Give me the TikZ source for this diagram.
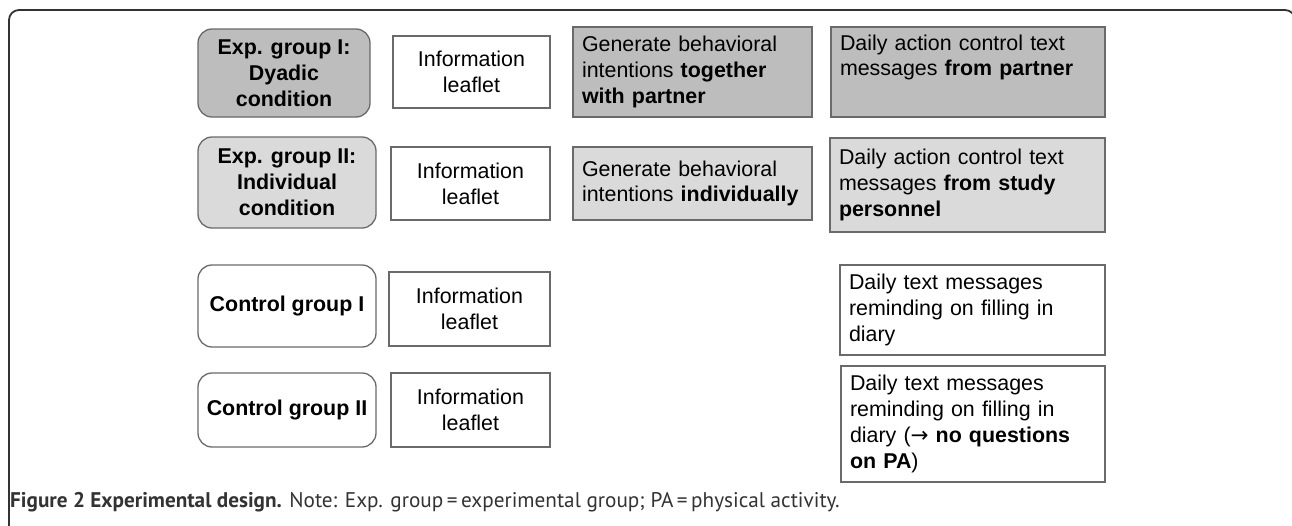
\documentclass[tikz,border=0pt]{standalone}
\usepackage{fontspec}
\setmainfont{Liberation Sans}
\newfontfamily\capfont{PT Sans}
\newfontfamily\arrowfont{DejaVu Sans}
\definecolor{gdark}{HTML}{BDBDBD}
\definecolor{glight}{HTML}{DADADA}
\definecolor{edgegray}{HTML}{6A6A6A}
\definecolor{framegray}{HTML}{333333}
\definecolor{captext}{HTML}{333333}
\begin{document}
\begin{tikzpicture}[x=1pt,y=-1pt,
  every node/.style={font=\fontsize{21.4}{25.8}\selectfont},
  grp/.style={draw=edgegray,line width=1.3pt,rounded corners=14pt,inner sep=0pt,align=center,font=\fontsize{21.4}{25.8}\selectfont\bfseries},
  leaf/.style={draw=edgegray,line width=1.3pt,fill=white,inner sep=0pt,align=center},
  act/.style={draw=edgegray,line width=1.3pt,inner xsep=9pt,inner ysep=0pt,align=left}]
\useasboundingbox (0,0) rectangle (1292,525);
\fill[white] (0,0) rectangle (1292,525);
% frame
\draw[framegray,line width=1.8pt,rounded corners=10pt] (9,530) -- (9,10) -- (1295,10) -- (1295,530);
% column 1
\node[grp,fill=gdark,minimum width=172pt,minimum height=88pt] (a1) at (284,73) {Exp. group I:\\Dyadic\\condition};
\node[grp,fill=glight,minimum width=178pt,minimum height=91pt] (a2) at (287,182.5) {Exp. group II:\\Individual\\condition};
\node[grp,fill=white,minimum width=178pt,minimum height=82pt] (a3) at (287,306) {Control group I};
\node[grp,fill=white,minimum width=178pt,minimum height=74pt] (a4) at (287,410) {Control group II};
% column 2
\node[leaf,minimum width=157pt,minimum height=72pt] (b1) at (471.5,72) {Information\\leaflet};
\node[leaf,minimum width=159pt,minimum height=73pt] (b2) at (470.5,183.5) {Information\\leaflet};
\node[leaf,minimum width=161pt,minimum height=74pt] (b3) at (469.5,309) {Information\\leaflet};
\node[leaf,minimum width=159pt,minimum height=74pt] (b4) at (470.5,410) {Information\\leaflet};
% column 3
\node[act,fill=gdark,text width=221pt,minimum height=90pt] (c1) at (692.5,72) {Generate behavioral\\intentions \textbf{together}\\\textbf{with partner}};
\node[act,fill=glight,text width=221pt,minimum height=73pt] (c2) at (692.5,183.5) {Generate behavioral\\intentions \textbf{individually}};
% column 4
\node[act,fill=gdark,text width=256pt,minimum height=90pt] (d1) at (968,72) {Daily action control text\\messages \textbf{from partner}\\\strut};
\node[act,fill=glight,text width=257pt,minimum height=94pt] (d2) at (967.5,185) {Daily action control text\\messages \textbf{from study}\\\textbf{personnel}};
\node[act,fill=white,text width=247pt,minimum height=90pt] (d3) at (972.5,310) {Daily text messages\\reminding on filling in\\diary};
\node[act,fill=white,text width=246pt,minimum height=116pt] (d4) at (973,424) {Daily text messages\\reminding on filling in\\diary ({\arrowfont\fontsize{21.4}{25.8}\selectfont→} \textbf{no questions}\\\textbf{on PA})};
% caption
\node[anchor=base west,inner sep=0pt,text=captext,font=\capfont\fontsize{21.2}{25}\selectfont] (cap) at (10,507) {\textbf{Figure 2 Experimental design.} Note: Exp. group\,=\,experimental group; PA\,=\,physical activity.};
\end{tikzpicture}
\end{document}
